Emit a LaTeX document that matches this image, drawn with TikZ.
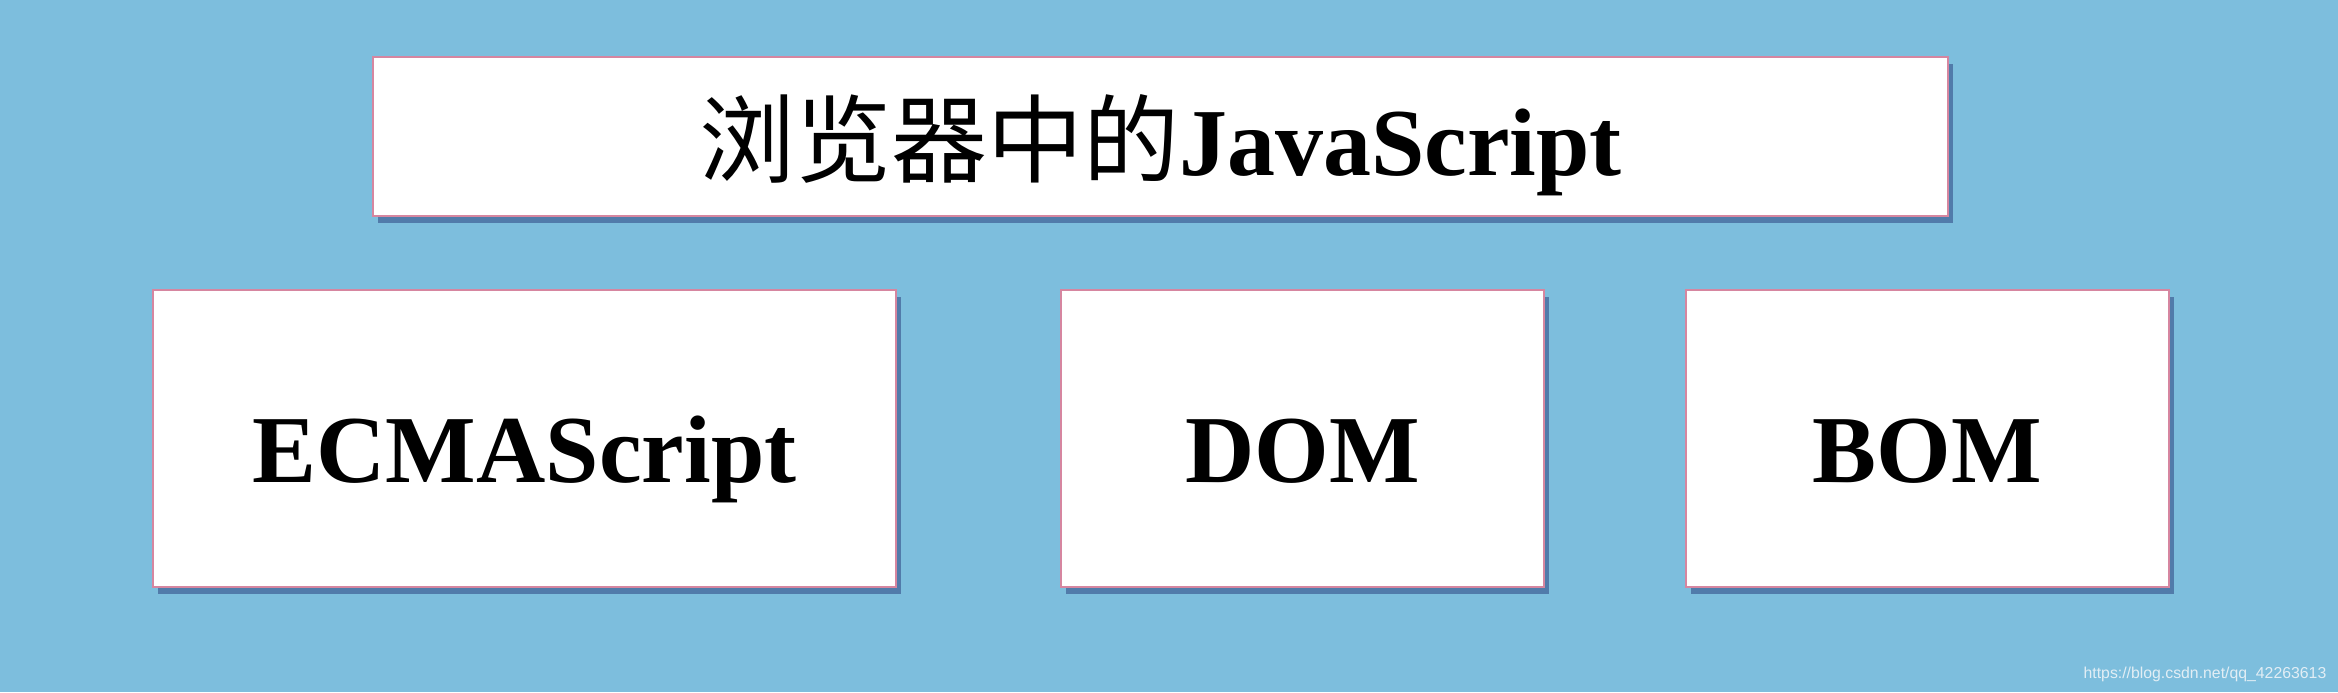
\documentclass[tikz,border=0pt]{standalone}
\usepackage{fontspec}
\setmainfont{Liberation Serif}
\newfontfamily\cjk{Noto Sans CJK SC}
\newfontfamily\wmfont{Liberation Sans}
\usetikzlibrary{shadows}
\definecolor{skyback}{RGB}{125,190,221}
\definecolor{pinkline}{RGB}{214,134,160}
\definecolor{markgray}{RGB}{226,238,245}
\begin{document}
\begin{tikzpicture}[
    part/.style={draw=pinkline,line width=.8pt,fill=white,inner sep=0pt,text depth=0cm,
      drop shadow={shadow xshift=.05cm,shadow yshift=-.07cm,opacity=.35,fill=black!70!blue},
      font=\fontsize{27.3}{32}\selectfont\bfseries},
    wide/.style={part,minimum width=15.75cm,minimum height=1.59cm,text height=.77cm},
    block/.style={part,minimum height=2.97cm,text height=.87cm}]
      \fill[skyback](0,0) rectangle (23.38,6.92); % background
      \node[wide](js) at (11.605,5.555){{\cjk\mdseries 浏览器中的}JavaScript};
      \node[block,minimum width=7.43cm](ecma) at (5.245,2.535){ECMAScript};
      \node[block,minimum width=4.83cm](dom) at (13.025,2.535){DOM};
      \node[block,minimum width=4.83cm](bom) at (19.275,2.535){BOM};
      \node[anchor=base east,inner sep=0pt,text=markgray,font=\wmfont\fontsize{4.5}{5}\selectfont](mark) at (23.27,.14){https://blog.csdn.net/qq\_42263613};
    \end{tikzpicture}
\end{document}
